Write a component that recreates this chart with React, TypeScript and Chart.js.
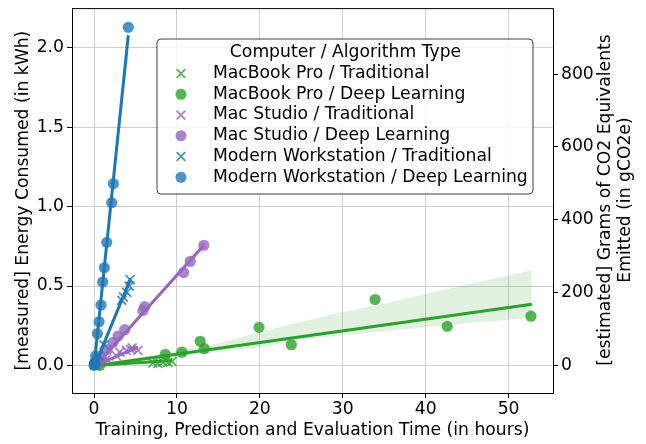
import React, { useEffect, useRef } from 'react';
import { Chart, registerables } from 'chart.js';

Chart.register(...registerables);

// ---------- axis ticks ----------
const xTicks = [0, 10, 20, 30, 40, 50];
const yTicks = [0, 0.5, 1.0, 1.5, 2.0];
const y2Ticks = [0, 200, 400, 600, 800];
const xRange = [-2.66, 55.36];
const yRange = [-0.174, 2.251];
const gramsPerKwh = 436;

const xTitle = 'Training, Prediction and Evaluation Time (in hours)';
const yTitle = '[measured] Energy Consumed (in kWh)';
const y2TitleLines = ['[estimated] Grams of CO2 Equivalents', 'Emitted (in gCO2e)'];
const legendTitle = 'Computer / Algorithm Type';
const seriesNames = [
  'MacBook Pro / Traditional',
  'MacBook Pro / Deep Learning',
  'Mac Studio / Traditional',
  'Mac Studio / Deep Learning',
  'Modern Workstation / Traditional',
  'Modern Workstation / Deep Learning',
];

// ---------- scatter points (hours, kWh) ----------
const mbpTradHours = [0.1, 0.3, 7.1, 7.7, 8.3, 8.9, 9.4];
const mbpTradKwh = [0.0, 0.002, 0.015, 0.012, 0.02, 0.018, 0.025];
const mbpDeepHours = [0.3, 0.7, 8.6, 10.6, 12.8, 13.3, 19.9, 23.8, 33.9, 42.6, 52.7];
const mbpDeepKwh = [0.005, 0.0, 0.07, 0.083, 0.152, 0.105, 0.24, 0.13, 0.415, 0.246, 0.31];
const msTradHours = [0.2, 0.5, 1.5, 2.7, 3.1, 3.9, 4.4, 4.6, 5.3];
const msTradKwh = [0.005, 0.01, 0.04, 0.06, 0.083, 0.094, 0.1, 0.11, 0.094];
const msDeepHours = [0.2, 0.4, 0.9, 1.6, 2.3, 2.9, 3.7, 5.9, 6.1, 10.8, 11.6, 13.25];
const msDeepKwh = [0.01, 0.02, 0.05, 0.1, 0.145, 0.185, 0.225, 0.345, 0.37, 0.585, 0.655, 0.757];
const mwTradHours = [0.1, 0.3, 0.6, 1.2, 3.35, 3.55, 3.95, 4.25, 4.35];
const mwTradKwh = [0.01, 0.03, 0.06, 0.13, 0.41, 0.43, 0.46, 0.5, 0.54];
const mwDeepHours = [0.0, 0.05, 0.1, 0.2, 0.4, 0.6, 0.84, 1.04, 1.24, 1.53, 2.13, 2.33, 4.13];
const mwDeepKwh = [0.0, 0.01, 0.02, 0.06, 0.2, 0.275, 0.38, 0.525, 0.615, 0.775, 1.025, 1.145, 2.13];

// ---------- regression lines (end points) ----------
const mbpTradFitHours = [0.1, 9.4];
const mbpTradFitKwh = [0.0, 0.03];
const mbpDeepFitHours = [0.3, 52.8];
const mbpDeepFitKwh = [-0.001, 0.385];
const msTradFitHours = [0.2, 5.3];
const msTradFitKwh = [0.0, 0.115];
const msDeepFitHours = [0.2, 13.3];
const msDeepFitKwh = [0.0, 0.76];
const mwTradFitHours = [0.1, 4.4];
const mwTradFitKwh = [0.0, 0.545];
const mwDeepFitHours = [0.0, 4.13];
const mwDeepFitKwh = [-0.01, 2.08];

// ---------- confidence bands ----------
const mbpDeepBandHours = [0.3, 5, 10, 15, 20, 25, 30, 35, 40, 45, 52.8];
const mbpDeepBandUpper = [0.01, 0.045, 0.09, 0.14, 0.21, 0.275, 0.335, 0.39, 0.45, 0.51, 0.6];
const mbpDeepBandLower = [-0.015, 0.025, 0.055, 0.085, 0.115, 0.16, 0.19, 0.215, 0.24, 0.265, 0.3];
const msDeepBandHours = [0.2, 3, 6, 9, 13.3];
const msDeepBandUpper = [0.012, 0.178, 0.35, 0.525, 0.8];
const msDeepBandLower = [-0.012, 0.165, 0.335, 0.5, 0.72];
const mwTradBandHours = [0.1, 2, 4.4];
const mwTradBandUpper = [0.01, 0.255, 0.57];
const mwTradBandLower = [-0.01, 0.235, 0.51];
const mwDeepBandHours = [0.0, 1, 2, 3, 4.13];
const mwDeepBandUpper = [0.02, 0.51, 1.02, 1.55, 2.17];
const mwDeepBandLower = [-0.04, 0.475, 0.975, 1.45, 1.93];

// ---------- styling ----------
const lineColors = ['#2ca02c', '#2ca02c', '#9467bd', '#9467bd', '#1f77b4', '#1f77b4'];
const markerColors = [
  'rgba(44,160,44,0.8)', 'rgba(44,160,44,0.8)',
  'rgba(148,103,189,0.8)', 'rgba(148,103,189,0.8)',
  'rgba(31,119,180,0.8)', 'rgba(31,119,180,0.8)',
];
const bandColors = [
  'rgba(44,160,44,0.15)', 'rgba(44,160,44,0.15)',
  'rgba(148,103,189,0.15)', 'rgba(148,103,189,0.15)',
  'rgba(31,119,180,0.15)', 'rgba(31,119,180,0.15)',
];
const isCross = [true, false, true, false, true, false];
const FONT = "'DejaVu Sans', 'Liberation Sans', sans-serif";
const FS = 17.2;

const pts = (xs: number[], ys: number[]) => xs.map((x, i) => ({ x, y: ys[i] }));

const groups = [
  { h: mbpTradHours, k: mbpTradKwh, fh: mbpTradFitHours, fk: mbpTradFitKwh, band: null as any },
  { h: mbpDeepHours, k: mbpDeepKwh, fh: mbpDeepFitHours, fk: mbpDeepFitKwh, band: [mbpDeepBandHours, mbpDeepBandUpper, mbpDeepBandLower] },
  { h: msTradHours, k: msTradKwh, fh: msTradFitHours, fk: msTradFitKwh, band: null as any },
  { h: msDeepHours, k: msDeepKwh, fh: msDeepFitHours, fk: msDeepFitKwh, band: [msDeepBandHours, msDeepBandUpper, msDeepBandLower] },
  { h: mwTradHours, k: mwTradKwh, fh: mwTradFitHours, fk: mwTradFitKwh, band: [mwTradBandHours, mwTradBandUpper, mwTradBandLower] },
  { h: mwDeepHours, k: mwDeepKwh, fh: mwDeepFitHours, fk: mwDeepFitKwh, band: [mwDeepBandHours, mwDeepBandUpper, mwDeepBandLower] },
];

function buildDatasets() {
  const ds: any[] = [];
  groups.forEach((g, gi) => {
    const base = 100 - gi * 10;
    ds.push({
      type: 'scatter',
      data: pts(g.h, g.k),
      pointStyle: isCross[gi] ? 'crossRot' : 'circle',
      pointRadius: isCross[gi] ? 6.3 : 5.6,
      pointBackgroundColor: markerColors[gi],
      pointBorderColor: markerColors[gi],
      pointBorderWidth: isCross[gi] ? 1.8 : 0,
      showLine: false,
      order: base,
    });
    if (g.band) {
      ds.push({
        type: 'line',
        data: pts(g.band[0], g.band[1]),
        borderWidth: 0,
        borderColor: 'rgba(0,0,0,0)',
        pointRadius: 0,
        fill: false,
        order: base - 1,
      });
      ds.push({
        type: 'line',
        data: pts(g.band[0], g.band[2]),
        borderWidth: 0,
        borderColor: 'rgba(0,0,0,0)',
        pointRadius: 0,
        fill: '-1',
        backgroundColor: bandColors[gi],
        order: base - 1,
      });
    }
    ds.push({
      type: 'line',
      data: pts(g.fh, g.fk),
      borderColor: lineColors[gi],
      borderWidth: 3,
      pointRadius: 0,
      fill: false,
      order: base - 2,
    });
  });
  return ds;
}

const overlayPlugin = {
  id: 'overlay',
  afterDraw(chart: any) {
    const ctx = chart.ctx as CanvasRenderingContext2D;
    const a = chart.chartArea;
    ctx.save();
    // top spine
    ctx.strokeStyle = '#000';
    ctx.lineWidth = 1;
    ctx.beginPath();
    ctx.moveTo(a.left, a.top + 0.5);
    ctx.lineTo(a.right, a.top + 0.5);
    ctx.stroke();

    // right axis title (reads bottom to top)
    ctx.font = `${FS}px ${FONT}`;
    ctx.fillStyle = '#000';
    ctx.textAlign = 'center';
    ctx.textBaseline = 'middle';
    const titleX = [606, 626];
    const titleY = [200, 200];
    y2TitleLines.forEach((t, i) => {
      ctx.save();
      ctx.translate(titleX[i], titleY[i]);
      ctx.rotate(-Math.PI / 2);
      ctx.fillText(t, 0, 0);
      ctx.restore();
    });

    // legend box
    const bx = 157, by = 39, bw = 376, bh = 155, r = 4;
    ctx.beginPath();
    ctx.moveTo(bx + r, by);
    ctx.lineTo(bx + bw - r, by);
    ctx.quadraticCurveTo(bx + bw, by, bx + bw, by + r);
    ctx.lineTo(bx + bw, by + bh - r);
    ctx.quadraticCurveTo(bx + bw, by + bh, bx + bw - r, by + bh);
    ctx.lineTo(bx + r, by + bh);
    ctx.quadraticCurveTo(bx, by + bh, bx, by + bh - r);
    ctx.lineTo(bx, by + r);
    ctx.quadraticCurveTo(bx, by, bx + r, by);
    ctx.closePath();
    ctx.fillStyle = 'rgba(255,255,255,0.85)';
    ctx.fill();
    ctx.strokeStyle = 'rgba(0,0,0,0.75)';
    ctx.lineWidth = 1;
    ctx.stroke();

    ctx.fillStyle = '#000';
    ctx.textAlign = 'center';
    ctx.fillText(legendTitle, 345.5, 53);
    ctx.textAlign = 'left';
    seriesNames.forEach((name, i) => {
      const cy = 73.5 + i * 20.75;
      const mx = 181;
      if (isCross[i]) {
        const d = 4.3;
        ctx.strokeStyle = markerColors[i];
        ctx.lineWidth = 1.8;
        ctx.beginPath();
        ctx.moveTo(mx - d, cy - d);
        ctx.lineTo(mx + d, cy + d);
        ctx.moveTo(mx - d, cy + d);
        ctx.lineTo(mx + d, cy - d);
        ctx.stroke();
      } else {
        ctx.fillStyle = markerColors[i];
        ctx.beginPath();
        ctx.arc(mx, cy, 5.5, 0, Math.PI * 2);
        ctx.fill();
      }
      ctx.fillStyle = '#000';
      ctx.fillText(name, 213, cy);
    });
    ctx.restore();
  },
};

export default function App() {
  const ref = useRef<HTMLCanvasElement>(null);
  useEffect(() => {
    document.body.style.margin = '0';
    const canvas = ref.current!;
    Chart.defaults.font.family = FONT;
    Chart.defaults.font.size = FS;
    Chart.defaults.color = '#000';
    const chart = new Chart(canvas, {
      type: 'scatter',
      data: { datasets: buildDatasets() },
      options: {
        responsive: false,
        animation: false,
        devicePixelRatio: 1,
        layout: { padding: { top: 6, left: 0, right: 0, bottom: 0 } },
        plugins: { legend: { display: false }, tooltip: { enabled: false } },
        elements: { line: { tension: 0 } },
        scales: {
          x: {
            type: 'linear',
            position: 'bottom',
            min: xRange[0],
            max: xRange[1],
            afterBuildTicks: (s: any) => { s.ticks = xTicks.map((v) => ({ value: v })); },
            afterFit: (s: any) => { s.height = 51; s.paddingLeft = 0; s.paddingRight = 0; },
            ticks: { padding: 1, callback: (v: any) => String(v), font: { size: FS }, color: '#000', maxRotation: 0 },
            grid: { color: '#cfcfcf', lineWidth: 1, tickColor: '#000', tickLength: 5, tickWidth: 1 },
            border: { color: '#000', width: 1 },
            title: { display: true, text: xTitle, font: { size: FS }, color: '#000', padding: { top: 0, bottom: 2.7 } },
          },
          y: {
            type: 'linear',
            position: 'left',
            min: yRange[0],
            max: yRange[1],
            afterBuildTicks: (s: any) => { s.ticks = yTicks.map((v) => ({ value: v })); },
            afterFit: (s: any) => { s.width = 72; s.paddingTop = 0; s.paddingBottom = 0; },
            ticks: { padding: 3, callback: (v: any) => Number(v).toFixed(1), font: { size: FS }, color: '#000' },
            grid: { color: '#cfcfcf', lineWidth: 1, tickColor: '#000', tickLength: 5, tickWidth: 1 },
            border: { color: '#000', width: 1 },
            title: { display: true, text: yTitle, font: { size: FS }, color: '#000', padding: { top: 13, bottom: 0 } },
          },
          y2: {
            type: 'linear',
            position: 'right',
            min: yRange[0] * gramsPerKwh,
            max: yRange[1] * gramsPerKwh,
            afterBuildTicks: (s: any) => { s.ticks = y2Ticks.map((v) => ({ value: v })); },
            afterFit: (s: any) => { s.width = 93; s.paddingTop = 0; s.paddingBottom = 0; },
            ticks: { padding: 3, callback: (v: any) => String(v), font: { size: FS }, color: '#000' },
            grid: { drawOnChartArea: false, tickColor: '#000', tickLength: 5, tickWidth: 1 },
            border: { color: '#000', width: 1 },
          },
        },
      } as any,
      plugins: [overlayPlugin],
    });
    return () => chart.destroy();
  }, []);
  return (
    <div style={{ position: 'absolute', left: 0, top: 0, width: 646, height: 444 }}>
      <canvas ref={ref} width={646} height={444} style={{ display: 'block', width: '646px', height: '444px' }} />
    </div>
  );
}
